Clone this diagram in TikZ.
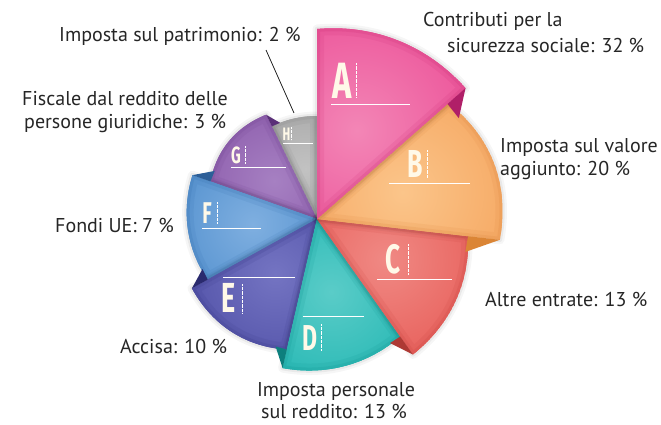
\documentclass[tikz,border=0pt]{standalone}
\usepackage{fontspec}
\setmainfont{PT Sans}
\newfontfamily\letterfont{Fira Sans}[FakeStretch=0.64]
\definecolor{txt}{HTML}{262626}
\definecolor{lettercol}{HTML}{FFF9E8}
\definecolor{Alight}{HTML}{F386B6}\definecolor{Abase}{HTML}{EA4390}\definecolor{Adark}{HTML}{C92A72}\definecolor{Afold}{HTML}{B01F68}
\definecolor{Blight}{HTML}{FBC58A}\definecolor{Bbase}{HTML}{F49E55}\definecolor{Bdark}{HTML}{DC843C}\definecolor{Bfold}{HTML}{DB8535}
\definecolor{Clight}{HTML}{F08984}\definecolor{Cbase}{HTML}{E5534E}\definecolor{Cdark}{HTML}{C63E3A}\definecolor{Cfold}{HTML}{AE3934}
\definecolor{Dlight}{HTML}{5ACCC8}\definecolor{Dbase}{HTML}{17B2AE}\definecolor{Ddark}{HTML}{0E9490}\definecolor{Dfold}{HTML}{0D7F7D}
\definecolor{Elight}{HTML}{7474C2}\definecolor{Ebase}{HTML}{4A4AA2}\definecolor{Edark}{HTML}{363686}\definecolor{Efold}{HTML}{2A2A6E}
\definecolor{Flight}{HTML}{7FAFE0}\definecolor{Fbase}{HTML}{4889CA}\definecolor{Fdark}{HTML}{346EAC}\definecolor{Ffold}{HTML}{2D5F98}
\definecolor{Glight}{HTML}{A680C2}\definecolor{Gbase}{HTML}{8856A8}\definecolor{Gdark}{HTML}{6E408E}\definecolor{Gfold}{HTML}{5A2F78}
\definecolor{Hlight}{HTML}{C2C2C2}\definecolor{Hbase}{HTML}{A0A0A0}\definecolor{Hdark}{HTML}{858585}\definecolor{Hfold}{HTML}{777777}
% #1 letter, #2 theta_a, #3 theta_b, #4 r_a, #5 r_b, #6 bulge, #7 r of next wedge, #8 fold angle
\newcommand{\pieWedge}[8]{%
\begin{scope}[shift={(317,205)}]
 \def\wshape{(0,0) -- plot[domain=#2:#3,samples=60] (\x:{#4+((#5)-(#4))*(\x-(#2))/((#3)-(#2))+(#6)*sin(180*(\x-(#2))/((#3)-(#2)))}) -- cycle}
 \draw[black, opacity=0.035, line width=9pt, line join=round] \wshape;
 \draw[black, opacity=0.05, line width=4.5pt, line join=round] \wshape;
 \begin{scope}
  \clip \wshape;
  \fill[#1base] \wshape;
  \shade[inner color=#1light, outer color=#1base] ({((#2)+(#3))/2}:{0.25*((#4)+(#5))}) circle ({0.45*((#4)+(#5))});
  \draw[#1dark, opacity=0.12, line width=14pt, line join=round] \wshape;
  \draw[#1dark, opacity=0.18, line width=6pt, line join=round] \wshape;
 \end{scope}
 \fill[#1fold] (#2:#4) -- (#2:#7) -- ({(#2)-(#8)}:#7) -- cycle;
\end{scope}}
\begin{document}
\begin{tikzpicture}[x=1pt,y=1pt,
  lbl/.style={inner sep=0pt, text=txt, font=\fontsize{20}{24}\selectfont},
  letterlbl/.style={inner sep=0pt, text=lettercol, font=\letterfont\bfseries\fontsize{#1}{#1}\selectfont},
  dotline/.style={white, line width=0.6pt, dash pattern=on 0.5pt off 0.8pt},
  uline/.style={white, line width=1pt}]
\useasboundingbox (0,0) rectangle (661,424);
\fill[white] (0,0) rectangle (661,424);
% wedges, drawn anticlockwise so each fold lies over its clockwise neighbour
\pieWedge{H}{90}{116}{103}{103}{0}{103}{0}
\pieWedge{G}{116}{160.6}{116}{113}{3}{103}{5}
\pieWedge{F}{-199.4}{-151}{132}{125}{1}{113}{5.8}
\pieWedge{E}{-151}{-103}{143}{134}{3}{125}{5.4}
\pieWedge{D}{-103}{-54.7}{153}{144}{1}{134}{5}
\pieWedge{C}{-54.7}{-6.5}{166}{152}{2}{144}{4.8}
\pieWedge{B}{-6.5}{41.4}{184}{175}{6}{152}{6}
\pieWedge{A}{41.4}{90}{198}{190}{2}{174}{6}
% letters inside wedges
\node[letterlbl=51, anchor=base] (la) at (342,326) {A};
\draw[dotline] (356,361) -- (356,326);
\draw[uline] (331,320) -- (410,320);
\node[letterlbl=39, anchor=base] (lb) at (415,247) {B};
\draw[dotline] (427,274) -- (427,246);
\draw[uline] (389,241) -- (470,241);
\node[letterlbl=41, anchor=base] (lc) at (393.5,151) {C};
\draw[dotline] (408,180) -- (408,149);
\draw[uline] (377,145) -- (452,145);
\node[letterlbl=36, anchor=base] (ld) at (309.5,74) {D};
\draw[dotline] (321,100) -- (321,73);
\draw[uline] (303,108) -- (364,108);
\node[letterlbl=42, anchor=base] (le) at (228.5,112) {E};
\draw[dotline] (242,140) -- (242,111);
\draw[uline] (223,147) -- (295,147);
\node[letterlbl=30, anchor=base] (lf) at (207,201) {F};
\draw[dotline] (217,222) -- (217,200);
\draw[uline] (202,196) -- (261,196);
\node[letterlbl=23.5, anchor=base] (lg) at (236,261) {G};
\draw[dotline] (245,278) -- (245,260);
\draw[uline] (231,257) -- (286,257);
\node[letterlbl=18, anchor=base] (lh) at (286.5,284) {H};
\draw[dotline] (291,297) -- (291,284);
\draw[uline] (283,281) -- (313,281);
% outside labels
\node[lbl, anchor=base west] (t1) at (59,382) {Imposta sul patrimonio: 2 \%};
\node[lbl, anchor=base west] (t2a) at (423,397) {Contributi per la};
\node[lbl, anchor=base west] (t2b) at (447,371) {sicurezza sociale: 32 \%};
\node[lbl, anchor=base west] (t3a) at (500,272) {Imposta sul valore};
\node[lbl, anchor=base west] (t3b) at (500,249) {aggiunto: 20 \%};
\node[lbl, anchor=base west] (t4) at (485,118) {Altre entrate: 13 \%};
\node[lbl, anchor=base] (t5a) at (336,28) {Imposta personale};
\node[lbl, anchor=base] (t5b) at (334,6) {sul reddito: 13 \%};
\node[lbl, anchor=base west] (t6) at (120,71) {Accisa: 10 \%};
\node[lbl, anchor=base west] (t7) at (55,192) {Fondi UE: 7 \%};
\node[lbl, anchor=base west] (t8a) at (22,319) {Fiscale dal reddito delle};
\node[lbl, anchor=base west] (t8b) at (24,296) {persone giuridiche: 3 \%};
% leader line for H
\coordinate (hl1) at (266,374);
\coordinate (hl2) at (294,311);
\draw[txt, line width=0.8pt] (hl1) -- (hl2);
\end{tikzpicture}
\end{document}
